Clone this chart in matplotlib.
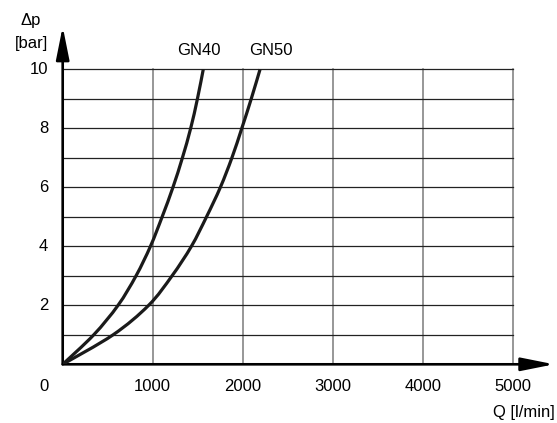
import matplotlib.pyplot as plt
from matplotlib.path import Path
from matplotlib.patches import PathPatch

plt.rcParams['font.family'] = ['Liberation Sans', 'DejaVu Sans']

# Kennlinien
dp_values = [0, 1, 2, 3, 4, 5, 6, 7, 8, 9, 10]
q_gn40 = [0, 345, 615, 815, 975, 1105, 1225, 1330, 1422, 1497, 1562]
q_gn50 = [0, 560, 955, 1215, 1430, 1598, 1752, 1880, 1990, 2095, 2193]

x_ticks = [1000, 2000, 3000, 4000, 5000]
y_ticks = [2, 4, 6, 8, 10]


def smooth_path(xs, ys):
    # Catmull-Rom durch die Punkte, als Bezier-Pfad gezeichnet
    pts = list(zip(xs, ys))
    verts = [pts[0]]
    codes = [Path.MOVETO]
    for i in range(len(pts) - 1):
        p0 = pts[i - 1] if i > 0 else pts[i]
        p1, p2 = pts[i], pts[i + 1]
        p3 = pts[i + 2] if i + 2 < len(pts) else pts[i + 1]
        c1 = (p1[0] + (p2[0] - p0[0]) / 6, p1[1] + (p2[1] - p0[1]) / 6)
        c2 = (p2[0] - (p3[0] - p1[0]) / 6, p2[1] - (p3[1] - p1[1]) / 6)
        verts += [c1, c2, p2]
        codes += [Path.CURVE4] * 3
    return Path(verts, codes)


fig = plt.figure(figsize=(5.57, 4.23), dpi=100)
ax = fig.add_axes([62.7 / 557, 58.7 / 423, 490.5 / 557, 339.25 / 423])
ax.set_xlim(0, 5450)
ax.set_ylim(0, 11.5)
ax.axis('off')

# Gitter
for q in x_ticks:
    ax.plot([q, q], [0, 10], color='#7a7a7a', lw=1.1, zorder=1)
for v in range(1, 11):
    ax.plot([0, 5000], [v, v], color='#222222', lw=0.9, zorder=1)

# Achsen mit Pfeilen
arrow = dict(arrowstyle='-|>,head_length=2.0,head_width=0.4', mutation_scale=10,
             lw=1.9, color='black', shrinkA=0, shrinkB=0)
ax.annotate('', xy=(5460, 0), xytext=(0, 0), arrowprops=arrow, annotation_clip=False)
ax.annotate('', xy=(0, 11.45), xytext=(0, 0), arrowprops=arrow, annotation_clip=False)

# Kurven
for q_vals in (q_gn40, q_gn50):
    ax.add_patch(PathPatch(smooth_path(q_vals, dp_values), facecolor='none',
                           edgecolor='#1a1a1a', lw=2.3, zorder=3, capstyle='butt'))

fs = 12
ax.text(1509, 10.63, 'GN40', ha='center', va='center', fontsize=fs)
ax.text(2309, 10.63, 'GN50', ha='center', va='center', fontsize=fs)

ax.text(-208, -0.76, '0', ha='center', va='center', fontsize=fs, clip_on=False)
for q in x_ticks:
    ax.text(q, -0.76, str(q), ha='center', va='center', fontsize=fs, clip_on=False)
for v in y_ticks:
    ax.text(-163, v, str(v), ha='right', va='center', fontsize=fs, clip_on=False)

ax.text(5470, -1.65, 'Q [l/min]', ha='right', va='center', fontsize=fs, clip_on=False)
ax.text(-352, 11.67, 'Δp', ha='center', va='center', fontsize=fs, clip_on=False)
ax.text(-352, 10.89, '[bar]', ha='center', va='center', fontsize=fs, clip_on=False)

fig.savefig('out.png', dpi=100)
